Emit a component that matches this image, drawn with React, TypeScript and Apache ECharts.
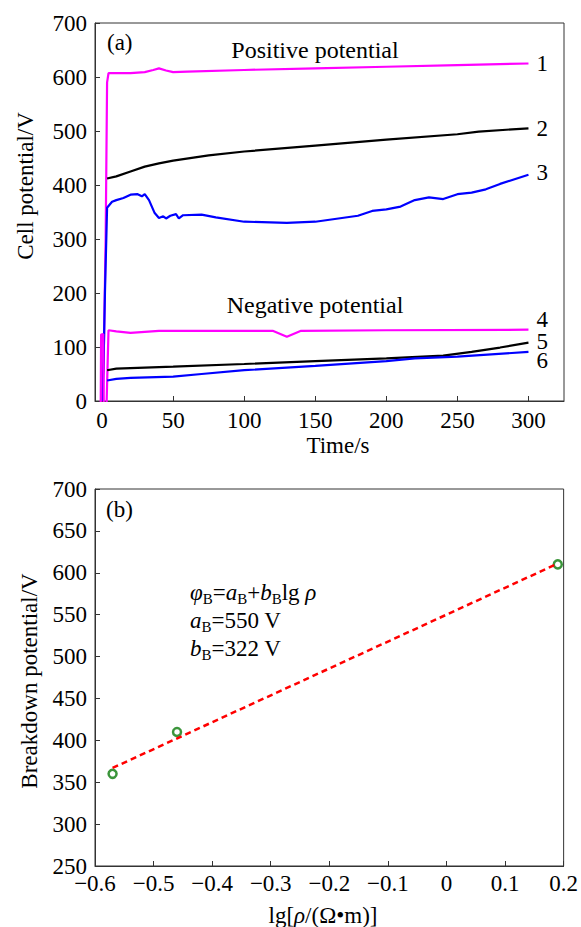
import React, { useEffect, useRef } from "react";
import * as echarts from "echarts";

// ---------- Data: panel (a) ----------
const t1 = [-0.5, 1, 2.5, 3.5, 4.5, 10, 20, 30, 36, 40, 45, 50, 60, 100, 150, 200, 250, 300];
const v1 = [0, 60, 300, 590, 607, 607, 607, 609, 613, 616, 612, 609, 610, 613, 616, 619, 622, 625];

const t2 = [3.5, 10, 20, 30, 40, 50, 75, 100, 150, 200, 250, 265, 300];
const v2 = [412, 416, 425, 434, 440, 445, 455, 462, 473, 484, 494, 499, 505];

const t3 = [0.5, 2, 3.5, 7, 10, 15, 20, 25, 28, 30, 33, 37, 40, 43, 45, 48, 52, 54, 57, 70, 80, 100, 130, 150, 180, 190, 200, 210, 220, 230, 240, 250, 260, 270, 280, 300];
const v3 = [0, 200, 358, 369, 372, 376, 382, 383, 379, 383, 372, 348, 339, 342, 338, 343, 346, 338, 344, 345, 340, 332, 330, 332, 343, 352, 355, 360, 372, 377, 374, 383, 386, 392, 402, 419];

const t4 = [-1, -0.7, 0.8, 1.2, 3, 4.5, 10, 20, 40, 120, 130, 140, 200, 300];
const v4 = [-20, 123, 124, -20, -20, 131, 129, 126, 130, 130, 119, 130, 131, 132];

const t5 = [3.5, 10, 50, 100, 150, 200, 240, 260, 280, 300];
const v5 = [57, 60, 63.5, 68.5, 74, 79, 84, 91, 99, 108];

const t6 = [3.5, 10, 20, 50, 70, 100, 150, 200, 220, 250, 300];
const v6 = [38, 41, 43, 45, 50, 57, 65, 74, 79, 82, 91];

const timeTicks = [0, 50, 100, 150, 200, 250, 300];
const curveNames = ["1", "2", "3", "4", "5", "6"];

// ---------- Data: panel (b) ----------
const lgRho = [-0.57, -0.46, 0.19];
const breakdownV = [360, 410, 610];
const fitX = [-0.57, 0.19];
const fitY = [367, 611];

const FONT = "'Liberation Serif', 'Times New Roman', serif";
const AX = "#333";
const TXT = "#000";

const zip = (a: number[], b: number[]) => a.map((x, i) => [x, b[i]]);

export default function App() {
  const ref = useRef<HTMLDivElement>(null);
  useEffect(() => {
    if (!ref.current) return;
    const chart = echarts.init(ref.current, undefined, { renderer: "svg" });

    const mkLine = (t: number[], v: number[], color: string, label: string, offset: number[]) => ({
      type: "line",
      xAxisIndex: 0,
      yAxisIndex: 0,
      data: zip(t, v),
      showSymbol: false,
      symbol: "none",
      clip: true,
      lineStyle: { color, width: 2.2 },
      endLabel: {
        show: true,
        formatter: label,
        distance: 8,
        offset,
        fontSize: 23,
        fontFamily: FONT,
        color: TXT,
      },
    });

    const baseAxis = {
      axisLine: { show: true, onZero: false, lineStyle: { color: AX, width: 1 } },
      axisTick: { show: true, inside: true, length: 5, lineStyle: { color: AX } },
      splitLine: { show: false },
    };

    const txt = (text: string, x: number, y: number, align = "left", extra: any = {}) => ({
      type: "text",
      x,
      y,
      silent: true,
      ...extra,
      style: {
        text,
        fontSize: 23,
        fontFamily: FONT,
        fill: TXT,
        textAlign: align,
        textVerticalAlign: "middle",
        ...(extra.style || {}),
      },
    });

    const rich = {
      i: { fontStyle: "italic", fontSize: 23, fontFamily: FONT, fill: TXT, lineHeight: 28 },
      s: { fontSize: 15, fontFamily: FONT, fill: TXT, verticalAlign: "bottom", lineHeight: 18 },
    };

    chart.setOption({
      animation: false,
      backgroundColor: "#ffffff",
      textStyle: { fontFamily: FONT },
      grid: [
        { left: 95, top: 23, width: 469, height: 378, show: true, borderColor: AX, borderWidth: 1, backgroundColor: "transparent" },
        { left: 95, top: 489, width: 469, height: 377, show: true, borderColor: AX, borderWidth: 1, backgroundColor: "transparent" },
      ],
      xAxis: [
        {
          ...baseAxis,
          gridIndex: 0,
          type: "value",
          min: -5,
          max: 325,
          axisTick: { ...baseAxis.axisTick, customValues: timeTicks },
          axisLabel: { customValues: timeTicks, fontSize: 23, fontFamily: FONT, color: TXT, margin: 8 },
        },
        {
          ...baseAxis,
          gridIndex: 1,
          type: "value",
          min: -0.6,
          max: 0.2,
          interval: 0.1,
          axisLabel: {
            fontSize: 23,
            fontFamily: FONT,
            color: TXT,
            margin: 6,
            showMinLabel: true,
            showMaxLabel: true,
            formatter: (v: number) => {
              const r = Math.round(v * 10) / 10;
              if (r === 0) return "0";
              return (r < 0 ? "\u2212" : "") + Math.abs(r).toFixed(1);
            },
          },
        },
      ],
      yAxis: [
        {
          ...baseAxis,
          gridIndex: 0,
          type: "value",
          min: 0,
          max: 700,
          interval: 100,
          axisLabel: { fontSize: 23, fontFamily: FONT, color: TXT, margin: 8 },
        },
        {
          ...baseAxis,
          gridIndex: 1,
          type: "value",
          min: 250,
          max: 700,
          interval: 50,
          axisLabel: { fontSize: 23, fontFamily: FONT, color: TXT, margin: 8 },
        },
      ],
      series: [
        mkLine(t1, v1, "#ff00ff", curveNames[0], [0, 0]),
        mkLine(t2, v2, "#000000", curveNames[1], [0, 0]),
        mkLine(t3, v3, "#0000ff", curveNames[2], [0, -2]),
        mkLine(t4, v4, "#ff00ff", curveNames[3], [0, -10]),
        mkLine(t5, v5, "#000000", curveNames[4], [0, -1]),
        mkLine(t6, v6, "#0000ff", curveNames[5], [0, 9]),
        {
          type: "line",
          xAxisIndex: 1,
          yAxisIndex: 1,
          data: zip(fitX, fitY),
          showSymbol: false,
          symbol: "none",
          lineStyle: { color: "#ff0000", width: 2.5, type: [6, 4] },
        },
        {
          type: "scatter",
          xAxisIndex: 1,
          yAxisIndex: 1,
          data: zip(lgRho, breakdownV),
          symbol: "circle",
          symbolSize: 8,
          itemStyle: { color: "#ffffff", borderColor: "#0a7a0a", borderWidth: 2.5 },
        },
      ],
      graphic: [
        txt("(a)", 107, 42),
        txt("Positive potential", 315, 50, "center", { style: { fontSize: 24 } }),
        txt("Negative potential", 315, 305, "center", { style: { fontSize: 24 } }),
        txt("Time/s", 338, 445, "center"),
        txt("Cell potential/V", 25, 186, "center", { rotation: Math.PI / 2 }),
        txt("(b)", 106, 509),
        txt("Breakdown potential/V", 29, 681, "center", { rotation: Math.PI / 2 }),
        txt("lg[{i|ρ}/(Ω•m)]", 323, 915, "center", { style: { rich } }),
        txt("{i|φ}{s|B}={i|a}{s|B}+{i|b}{s|B}lg {i|ρ}", 190, 592, "left", { style: { rich } }),
        txt("{i|a}{s|B}=550 V", 190, 620, "left", { style: { rich } }),
        txt("{i|b}{s|B}=322 V", 190, 648, "left", { style: { rich } }),
      ],
    });
    return () => chart.dispose();
  }, []);

  return (
    <div
      ref={ref}
      style={{ position: "absolute", left: 0, top: 0, width: 581, height: 927, background: "#fff" }}
    />
  );
}
